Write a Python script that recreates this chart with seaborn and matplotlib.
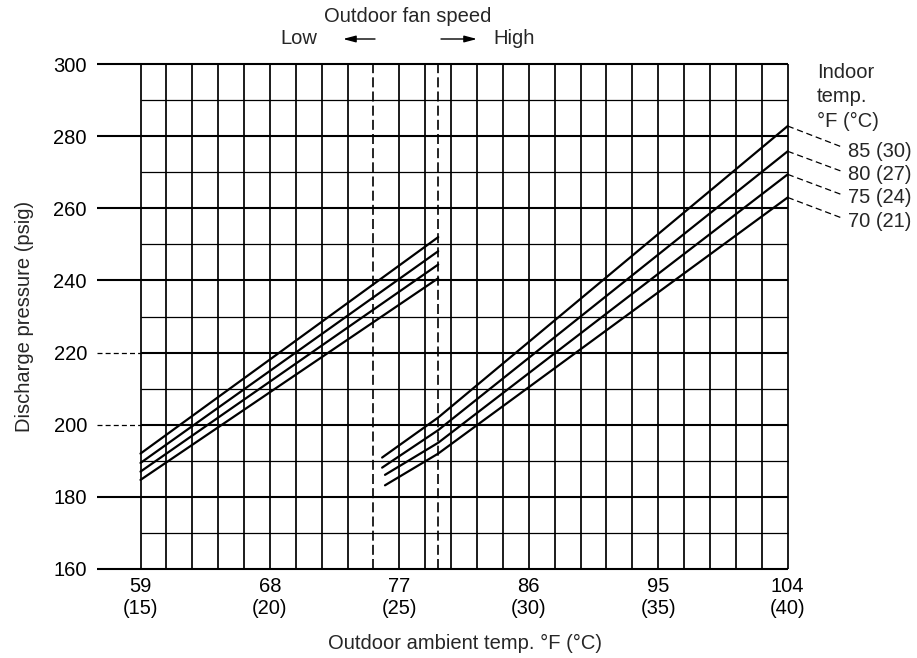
import numpy as np
import pandas as pd
import matplotlib
matplotlib.use("Agg")
import matplotlib.pyplot as plt
import seaborn as sns

# ---- data -------------------------------------------------------------
# indoor temperature curves
indoor_temps_f = [85, 80, 75, 70]
indoor_labels = ["85 (30)", "80 (27)", "75 (24)", "70 (21)"]

# low outdoor fan speed: outdoor ambient °F -> discharge pressure psig
low_x = [59.0, 79.7]
low_p_85 = [192.0, 252.0]
low_p_80 = [189.4, 248.1]
low_p_75 = [187.0, 244.4]
low_p_70 = [184.7, 240.6]

# high outdoor fan speed
high_x_85 = [75.8, 79.7, 104.0]
high_x_80 = [75.8, 79.7, 104.0]
high_x_75 = [76.0, 79.7, 104.0]
high_x_70 = [76.0, 79.7, 104.0]
high_p_85 = [190.9, 202.0, 282.8]
high_p_80 = [188.1, 198.5, 275.8]
high_p_75 = [186.1, 195.0, 269.4]
high_p_70 = [183.2, 192.0, 263.0]

# fan-speed change-over boundaries (°F)
fan_low_limit_f = 75.2    # 24 °C
fan_high_limit_f = 79.7   # 26.5 °C

# axes ticks
x_ticks_f = [59, 68, 77, 86, 95, 104]
x_ticks_c = [15, 20, 25, 30, 35, 40]
y_ticks = [160, 180, 200, 220, 240, 260, 280, 300]
dashed_ref_pressures = [200, 220]

# ---- long-form table for seaborn -------------------------------------
rows = []
low_sets = {85: low_p_85, 80: low_p_80, 75: low_p_75, 70: low_p_70}
high_sets = {85: (high_x_85, high_p_85), 80: (high_x_80, high_p_80),
             75: (high_x_75, high_p_75), 70: (high_x_70, high_p_70)}
for t in indoor_temps_f:
    for x, p in zip(low_x, low_sets[t]):
        rows.append({"outdoor_f": x, "pressure": p, "series": f"low-{t}"})
    hx, hp = high_sets[t]
    for x, p in zip(hx, hp):
        rows.append({"outdoor_f": x, "pressure": p, "series": f"high-{t}"})
df = pd.DataFrame(rows)

# ---- figure -----------------------------------------------------------
sns.set_style("white")
plt.rcParams["font.family"] = ["Liberation Sans", "DejaVu Sans"]
FS = 14.5

W, H = 917, 658
fig = plt.figure(figsize=(W / 100, H / 100), dpi=100)

ax_left_px, ax_right_px, ax_top_px, ax_bot_px = 96.7, 787.7, 64.0, 569.0
ax = fig.add_axes([ax_left_px / W, 1 - ax_bot_px / H,
                   (ax_right_px - ax_left_px) / W, (ax_bot_px - ax_top_px) / H])

x_left = 59 - (140.5 - ax_left_px) / ((ax_right_px - 140.5) / 45.0)
ax.set_xlim(x_left, 104)
ax.set_ylim(160, 300)
for s in ax.spines.values():
    s.set_visible(False)

# grid: 1 °C verticals, 10 psig horizontals
grid_c = np.arange(15, 41)
grid_f = [32 + 1.8 * c for c in grid_c if c != 24]
ax.vlines(grid_f, 160, 300, color="black", lw=1.25, zorder=1, clip_on=False)
minor_p = np.arange(170, 300, 20)
ax.hlines(minor_p, 59, 104, color="black", lw=0.9, zorder=1, clip_on=False)
ax.hlines(y_ticks, 59, 104, color="black", lw=1.5, zorder=1, clip_on=False)
for p in y_ticks:
    style = (0, (4, 2.5)) if p in dashed_ref_pressures else "-"
    lw = 0.9 if p in dashed_ref_pressures else 1.5
    ax.hlines(p, x_left, 59, color="black", lw=lw, linestyles=[style],
              zorder=1, clip_on=False)

# fan-speed boundaries
ax.vlines([fan_low_limit_f, fan_high_limit_f], 160, 300, color="black",
          lw=1.2, linestyles=[(0, (6, 2.5))], zorder=1, clip_on=False)

# pressure curves
sns.lineplot(data=df, x="outdoor_f", y="pressure", units="series",
             estimator=None, sort=False, color="black", linewidth=1.6,
             legend=False, ax=ax, zorder=3)
for line in ax.lines:
    line.set_clip_on(False)

# ticks and labels
ax.set_xticks(x_ticks_f)
ax.set_xticklabels([f"{f}\n({c})" for f, c in zip(x_ticks_f, x_ticks_c)])
ax.set_yticks(y_ticks)
ax.set_yticklabels([str(v) for v in y_ticks])
ax.tick_params(axis="both", length=0, labelsize=FS, colors="black")
ax.tick_params(axis="y", pad=7)
ax.tick_params(axis="x", pad=6)
ax.grid(False)

ax.set_xlabel("Outdoor ambient temp. °F (°C)", fontsize=FS)
ax.xaxis.set_label_coords((465.4 - ax_left_px) / (ax_right_px - ax_left_px),
                          -(634 - ax_bot_px) / (ax_bot_px - ax_top_px))
ax.xaxis.label.set_va("top")
ax.set_ylabel("Discharge pressure (psig)", fontsize=FS)
ax.yaxis.set_label_coords(-(ax_left_px - 34.0) / (ax_right_px - ax_left_px), 0.5)


def fig_px(x, y):
    """Top-left pixel position -> figure fraction."""
    return x / W, 1 - y / H


# fan-speed header
fig.text(*fig_px(407.5, 22), "Outdoor fan speed", fontsize=FS,
         ha="center", va="baseline")
fig.text(*fig_px(280, 44), "Low", fontsize=FS, ha="left", va="baseline")
fig.text(*fig_px(493, 44), "High", fontsize=FS, ha="left", va="baseline")
arrow_kw = dict(arrowstyle="-|>,head_length=0.75,head_width=0.2",
                color="black", lw=1.0, shrinkA=0, shrinkB=0,
                mutation_scale=10)
ax.annotate("", xy=(343, H - 39), xytext=(375, H - 39),
            xycoords="figure pixels", textcoords="figure pixels",
            arrowprops=arrow_kw)
ax.annotate("", xy=(477, H - 39), xytext=(441, H - 39),
            xycoords="figure pixels", textcoords="figure pixels",
            arrowprops=arrow_kw)

# indoor temperature key
for txt, yb in zip(["Indoor", "temp.", "°F (°C)"], [78.3, 101.7, 126.7]):
    fig.text(*fig_px(816.7, yb), txt, fontsize=FS, ha="left", va="baseline")

to_data = ax.transData.inverted()
label_base_px = [156.7, 180.0, 203.3, 226.7]
leader_end_px = [147.3, 171.7, 195.0, 218.3]
end_values = [high_p_85[-1], high_p_80[-1], high_p_75[-1], high_p_70[-1]]
for lab, yb, ye, pend in zip(indoor_labels, label_base_px, leader_end_px, end_values):
    xe, pe = to_data.transform((842.7, H - ye))
    ax.plot([104, xe], [pend, pe], color="black", lw=0.9,
            linestyle=(0, (5, 3)), clip_on=False)
    fig.text(*fig_px(848.3, yb), lab, fontsize=FS, ha="left", va="baseline")

fig.savefig("out.png", dpi=100)
